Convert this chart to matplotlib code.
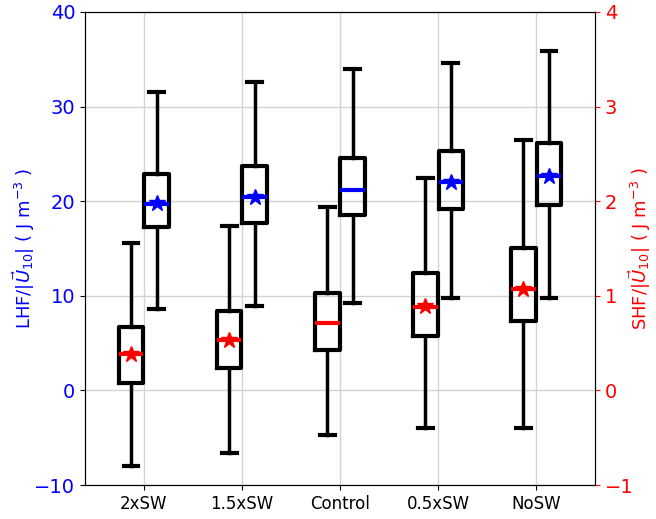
import matplotlib
matplotlib.use("Agg")
import matplotlib.pyplot as plt
import numpy as np

cases = ['2xSW', '1.5xSW', 'Control', '0.5xSW', 'NoSW']

# LHF/|U10| (left axis): whisker low, q1, median, q3, whisker high, mean
lhf_low = [8.6, 8.9, 9.2, 9.8, 9.8]
lhf_q1 = [17.3, 17.7, 18.5, 19.2, 19.6]
lhf_med = [19.7, 20.4, 21.2, 22.0, 22.7]
lhf_q3 = [22.9, 23.7, 24.6, 25.3, 26.1]
lhf_high = [31.5, 32.6, 34.0, 34.6, 35.9]
lhf_mean = [19.8, 20.4, None, 22.0, 22.7]

# SHF/|U10| (right axis)
shf_low = [-0.80, -0.66, -0.47, -0.40, -0.40]
shf_q1 = [0.08, 0.24, 0.43, 0.58, 0.73]
shf_med = [0.38, 0.53, 0.715, 0.88, 1.07]
shf_q3 = [0.67, 0.84, 1.03, 1.24, 1.50]
shf_high = [1.56, 1.74, 1.94, 2.24, 2.65]
shf_mean = [0.385, 0.53, None, 0.89, 1.07]


def make_stats(low, q1, med, q3, high):
    return [dict(whislo=a, q1=b, med=c, q3=d, whishi=e, fliers=[])
            for a, b, c, d, e in zip(low, q1, med, q3, high)]


pos = np.arange(1, len(cases) + 1)
off = 0.13
w = 0.25

fig = plt.figure(figsize=(6.56, 5.19), dpi=100)
ax = fig.add_axes([0.1296, 0.0655, 0.7774, 0.9115])
ax2 = ax.twinx()

box_kw = dict(widths=w, showfliers=False, patch_artist=False,
              boxprops=dict(color='k', linewidth=3),
              whiskerprops=dict(color='k', linewidth=2.5),
              capprops=dict(color='k', linewidth=3),
              capwidths=0.15)

ax.bxp(make_stats(lhf_low, lhf_q1, lhf_med, lhf_q3, lhf_high),
       positions=pos + off, medianprops=dict(color='blue', linewidth=3),
       **box_kw)
ax2.bxp(make_stats(shf_low, shf_q1, shf_med, shf_q3, shf_high),
        positions=pos - off, medianprops=dict(color='red', linewidth=3),
        **box_kw)

for p, m in zip(pos, lhf_mean):
    if m is not None:
        ax.plot(p + off, m, '*', color='blue', markersize=12)
for p, m in zip(pos, shf_mean):
    if m is not None:
        ax2.plot(p - off, m, '*', color='red', markersize=12)

ax.set_xlim(0.4, 5.6)
ax.set_ylim(-10, 40)
ax2.set_ylim(-1, 4)
ax.set_yticks([-10, 0, 10, 20, 30, 40])
ax2.set_yticks([-1, 0, 1, 2, 3, 4])
ax.set_xticks(pos)
ax.set_xticklabels(cases, fontsize=12)
ax.grid(True, color='lightgray', linewidth=1)

ax.tick_params(axis='y', labelcolor='blue', labelsize=14)
ax2.tick_params(axis='y', colors='red', labelsize=14)
ax.set_ylabel(r'LHF/$|\vec{U}_{10}|$ ( J m$^{-3}$ )', color='blue', fontsize=13)
ax2.set_ylabel(r'SHF/$|\vec{U}_{10}|$ ( J m$^{-3}$ )', color='red', fontsize=13)
ax.yaxis.set_label_coords(-0.095, 0.5)
ax2.yaxis.set_label_coords(1.062, 0.5)

fig.savefig('out.png', dpi=100)
